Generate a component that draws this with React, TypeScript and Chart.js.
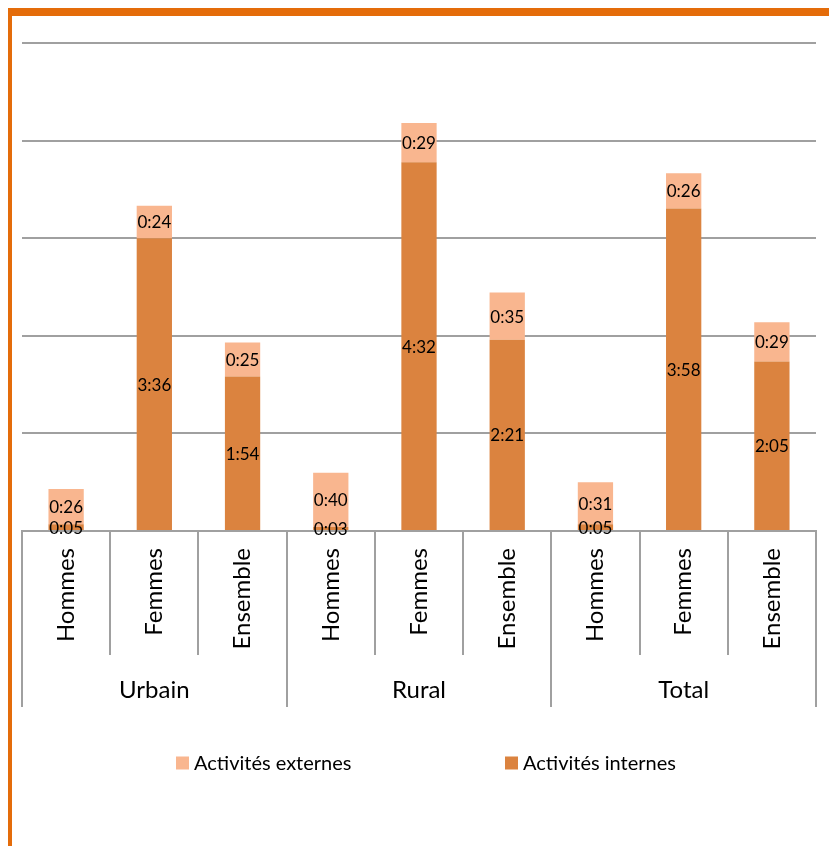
import React, { useEffect, useRef } from 'react';
import { Chart, registerables } from 'chart.js';

Chart.register(...registerables);

// ---- data ----
const groups = ['Urbain', 'Rural', 'Total'];
const categories = ['Hommes', 'Femmes', 'Ensemble', 'Hommes', 'Femmes', 'Ensemble', 'Hommes', 'Femmes', 'Ensemble'];
// minutes
const internes = [5, 216, 114, 3, 272, 141, 5, 238, 125];
const externes = [26, 24, 25, 40, 29, 35, 31, 26, 29];
const seriesNames = ['Activités internes', 'Activités externes'];
const yMax = 360;
const yStep = 72;

// ---- styles ----
const COLOR_INT = '#DB833F';
const COLOR_EXT = '#F9B68F';
const GRID = '#a0a0a0';
const ORANGE = '#E46C0A';
const FONT = 'Lato';

const fmt = (m: number) => `${Math.floor(m / 60)}:${String(m % 60).padStart(2, '0')}`;

const valueLabels = {
  id: 'valueLabels',
  afterDatasetsDraw(chart: any) {
    const ctx = chart.ctx;
    ctx.save();
    ctx.font = `17px ${FONT}`;
    ctx.fillStyle = '#000';
    ctx.textAlign = 'center';
    ctx.textBaseline = 'middle';
    chart.data.datasets.forEach((ds: any, di: number) => {
      const meta = chart.getDatasetMeta(di);
      meta.data.forEach((bar: any, i: number) => {
        const { x, y, base } = bar.getProps(['x', 'y', 'base'], true);
        ctx.fillText(fmt(ds.data[i]), x, (y + base) / 2 + 1);
      });
    });
    ctx.restore();
  },
};

// legend drawn with dataset colours / labels, external first
const LEGEND_ORDER = [1, 0];
const LEGEND_X = [176, 505];
const LEGEND_Y = 763;
const customLegend = {
  id: 'customLegend',
  afterDraw(chart: any) {
    const ctx = chart.ctx;
    ctx.save();
    ctx.font = `20px ${FONT}`;
    ctx.textAlign = 'left';
    ctx.textBaseline = 'middle';
    LEGEND_ORDER.forEach((di, k) => {
      const ds = chart.data.datasets[di];
      const x = LEGEND_X[k];
      ctx.fillStyle = ds.backgroundColor;
      ctx.fillRect(x, LEGEND_Y - 6.5, 13, 13);
      ctx.fillStyle = '#000';
      ctx.fillText(ds.label, x + 18, LEGEND_Y + 1);
    });
    ctx.restore();
  },
};

export default function App() {
  const ref = useRef<HTMLCanvasElement>(null);
  useEffect(() => {
    if (!ref.current) return;
    const chart = new Chart(ref.current, {
      type: 'bar',
      data: {
        labels: categories,
        datasets: [
          { label: seriesNames[0], data: internes, backgroundColor: COLOR_INT, borderWidth: 0 },
          { label: seriesNames[1], data: externes, backgroundColor: COLOR_EXT, borderWidth: 0 },
        ],
      },
      options: {
        responsive: false,
        animation: false,
        devicePixelRatio: 1,
        layout: { padding: { top: 43, left: 22, right: 13, bottom: 139 } },
        datasets: { bar: { barPercentage: 0.4, categoryPercentage: 1.0 } },
        plugins: {
          legend: { display: false },
          tooltip: { enabled: false },
          title: { display: false },
        },
        scales: {
          x: {
            stacked: true,
            offset: true,
            grid: { offset: true, drawOnChartArea: false, drawTicks: true, tickLength: 124, color: GRID, lineWidth: 2 },
            border: { display: true, color: GRID, width: 2 },
            ticks: {
              autoSkip: false,
              minRotation: 90,
              maxRotation: 90,
              padding: -107,
              color: '#000',
              font: { family: FONT, size: 24 },
            },
            afterFit: (s: any) => { s.height = 124; },
          },
          x2: {
            type: 'category',
            position: 'bottom',
            labels: groups,
            offset: true,
            grid: { offset: true, drawOnChartArea: false, drawTicks: true, tickLength: 52, color: GRID, lineWidth: 2 },
            border: { display: false },
            ticks: {
              autoSkip: false,
              minRotation: 0,
              maxRotation: 0,
              padding: -31,
              color: '#000',
              font: { family: FONT, size: 24 },
            },
            afterFit: (s: any) => { s.height = 52; },
          },
          y: {
            stacked: true,
            min: 0,
            max: yMax,
            ticks: { display: false, stepSize: yStep },
            grid: { color: GRID, lineWidth: 2, drawTicks: false },
            border: { display: false },
            afterFit: (s: any) => { s.width = 0; },
          },
        },
      } as any,
      plugins: [valueLabels, customLegend],
    });
    return () => chart.destroy();
  }, []);

  return (
    <div style={{ position: 'fixed', left: 0, top: 0, width: 829, height: 846, background: '#fff', overflow: 'hidden' }}>
      <canvas ref={ref} width={829} height={846} style={{ display: 'block', position: 'absolute', left: 0, top: 0 }} />
      <div style={{ position: 'absolute', left: 8, top: 8, width: 821, height: 8, background: ORANGE }} />
      <div style={{ position: 'absolute', left: 8, top: 8, width: 4, height: 838, background: ORANGE }} />
    </div>
  );
}
